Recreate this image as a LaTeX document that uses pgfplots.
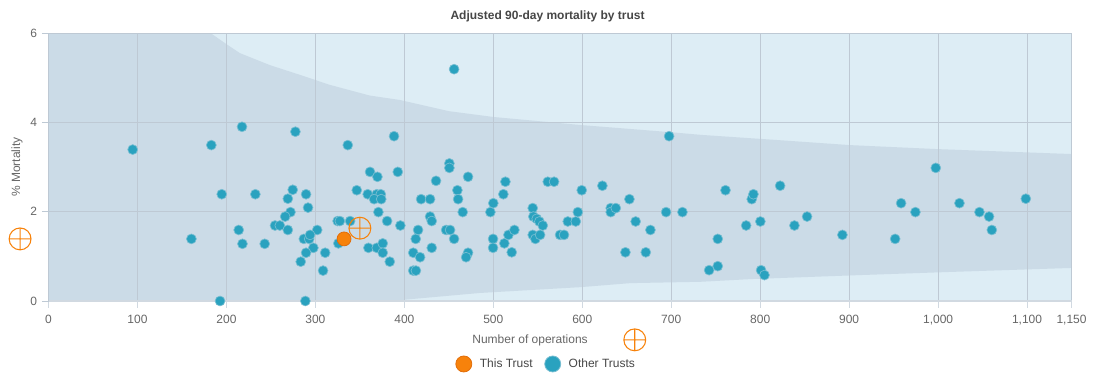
\documentclass[border=0pt]{standalone}
\usepackage{fontspec}
\setmainfont{Liberation Sans}
\usepackage{pgfplots}
\pgfplotsset{compat=1.18}
\definecolor{outerband}{RGB}{221,237,245}
\definecolor{innerband}{RGB}{203,219,231}
\definecolor{gridc}{RGB}{190,201,212}
\definecolor{dotc}{RGB}{42,162,191}
\definecolor{dotedge}{RGB}{120,190,210}
\definecolor{thisc}{RGB}{247,130,11}
\definecolor{thisedge}{RGB}{226,110,10}
\definecolor{labc}{RGB}{102,102,102}
\definecolor{titc}{RGB}{70,70,70}
\begin{document}
\begin{tikzpicture}
\begin{axis}[
  at={(0,0)}, anchor=south west,
  scale only axis, width=767.25pt, height=201pt,
  set layers,
  clip=false,
  xmin=0, xmax=1150, ymin=0, ymax=6,
  xtick={0,100,...,1100,1150},
  ytick={0,2,4,6},
  /pgf/number format/assume math mode=true,
  /pgf/number format/1000 sep={,},
  scaled ticks=false,
  grid=major,
  major grid style={draw=gridc, line width=0.6pt},
  axis background/.style={fill=outerband},
  axis lines*=left,
  x axis line style={draw=gridc!70!white, line width=1pt},
  y axis line style={draw=gridc, line width=0.8pt},
  tick align=outside,
  major tick length=5pt,
  xtick pos=bottom, ytick pos=left,
  x tick style={draw=gridc!70!white, line width=0.8pt},
  y tick style={draw=gridc, line width=0.6pt},
  ticklabel style={font=\fontsize{9}{10}\selectfont, text=labc},
  xticklabel style={yshift=-2pt},
  every axis title shift=0pt,
  title={\bfseries Adjusted 90-day mortality by trust},
  title style={at={(axis description cs:0.4878,1.063)}, anchor=center, yshift=0pt, font=\fontsize{9}{10}\selectfont, text=titc},
  xlabel={Number of operations},
  xlabel style={at={(axis description cs:0.4707,-0.146)}, anchor=center, font=\fontsize{9}{10}\selectfont, text=labc},
  ylabel={\% Mortality},
  ylabel style={at={(axis description cs:-0.0308,0.5)}, anchor=center, font=\fontsize{9}{10}\selectfont, text=labc},
  legend style={at={(axis description cs:0.487,-0.235)}, anchor=center, draw=none, fill=none,
    legend columns=2, font=\fontsize{9}{10}\selectfont, text=titc,
    /tikz/every odd column/.append style={column sep=4pt},
    /tikz/every even column/.append style={column sep=7pt}},
]
% funnel (inner band)
\addplot[fill=innerband, draw=none, on layer=axis background, forget plot] coordinates {
(0,0) (0,6) (182,6) (200,5.75) (215,5.55) (249,5.28) (283,5.06) (316,4.84) (361,4.6)
(395,4.5) (450,4.25) (500,4.12) (598,3.94) (699,3.78) (733,3.72) (822,3.6) (901,3.49)
(1000,3.4) (1150,3.29)
(1150,0.74) (1013,0.65) (912,0.58) (789,0.49) (733,0.43) (654,0.40) (598,0.31)
(485,0.18) (395,0.02) (370,0) (0,0)
} -- cycle;

\addlegendimage{only marks, mark=*, mark size=6pt, mark options={fill=thisc, draw=thisedge, line width=0.6pt}}
\addlegendentry{This Trust}
\addlegendimage{only marks, mark=*, mark size=6pt, mark options={fill=dotc, draw=dotedge, line width=0.6pt}}
\addlegendentry{Other Trusts}

% other trusts
\addplot[only marks, mark=*, mark size=3.7pt, mark options={fill=dotc, draw=dotedge, line width=0.5pt}, forget plot] coordinates {
(94.6,3.39) (183,3.49) (217.5,3.9) (277.5,3.79) (194.7,2.39) (232.5,2.39) (274.5,2.49)
(269,2.29) (289.5,2.39) (291.7,2.09) (272,1.99) (266,1.89) (254.6,1.69) (260,1.69)
(269,1.59) (213.8,1.59) (160.6,1.39) (218,1.28) (243,1.28) (302,1.59) (287,1.39)
(293,1.39) (294,1.48) (297.7,1.19) (289.5,1.08) (311,1.08) (283.5,0.88) (308.6,0.68)
(192.8,0) (288.7,0) (336.4,3.49) (388.4,3.69) (361.4,2.89) (369.7,2.78) (392.6,2.89)
(346.5,2.48) (358.8,2.39) (369,2.39) (373.5,2.39) (366,2.28) (374,2.28) (370.8,1.99)
(380.6,1.79) (395.5,1.69) (325,1.79) (327.5,1.79) (339,1.79) (325.8,1.29) (359.6,1.19)
(369,1.19) (375.7,1.29) (375.7,1.08) (383.6,0.88) (418.8,2.28) (428.9,2.28) (435.6,2.69)
(450.6,3.08) (450.6,2.98) (471.6,2.78) (459.6,2.48) (460.4,2.28) (465.6,1.99) (428.9,1.89)
(430.8,1.79) (415.4,1.59) (412.8,1.39) (446.9,1.59) (451.4,1.59) (455.9,1.39) (410,1.08)
(417.7,0.98) (430.8,1.19) (410,0.68) (413,0.68) (471.6,1.08) (469.4,0.98) (455.9,5.19)
(496.7,1.99) (500,2.19) (499.7,1.39) (499.7,1.19) (511.3,2.39) (513.6,2.67) (512.4,1.29)
(517,1.48) (523.7,1.59) (520.7,1.09) (544.3,2.08) (545,1.89) (548.8,1.84) (551.8,1.78)
(555.6,1.69) (544.3,1.48) (547.3,1.39) (552.6,1.48) (561.2,2.67) (568.3,2.67) (575,1.48)
(579.5,1.48) (583.7,1.78) (592.7,1.78) (595,1.99) (599.4,2.48) (622.6,2.58) (632,2.08)
(632,1.99) (637.7,2.08) (653,2.28) (660,1.78) (648.5,1.09) (671.4,1.09) (676.6,1.59)
(694.2,1.99) (712.6,1.99) (697.6,3.69) (742.6,0.69) (752.3,0.78) (752.3,1.39) (761,2.48)
(784.2,1.69) (790.5,2.28) (792.4,2.39) (800.2,1.78) (801,0.69) (804.8,0.58) (822.4,2.58)
(838.5,1.69) (852.7,1.89) (892.4,1.48) (997.4,2.98) (958.4,2.19) (974.5,1.99) (951.7,1.39)
(1024,2.19) (1046.5,1.99) (1057.3,1.89) (1060.4,1.59) (1098.6,2.29)
};
% this trust
\addplot[only marks, mark=*, mark size=5.2pt, mark options={fill=thisc, draw=thisedge, line width=0.6pt}, forget plot] coordinates {(332.2,1.39)};
% crosshair markers
\addplot[only marks, mark=oplus, mark size=8.2pt, mark options={fill=white, draw=thisc, line width=0.8pt}, forget plot] coordinates {(350,1.63) (-32,1.39) (659,-0.87)};
\end{axis}
\path (-36.4pt,-68.25pt) rectangle (794.6pt,225.75pt);
\end{tikzpicture}
\end{document}
